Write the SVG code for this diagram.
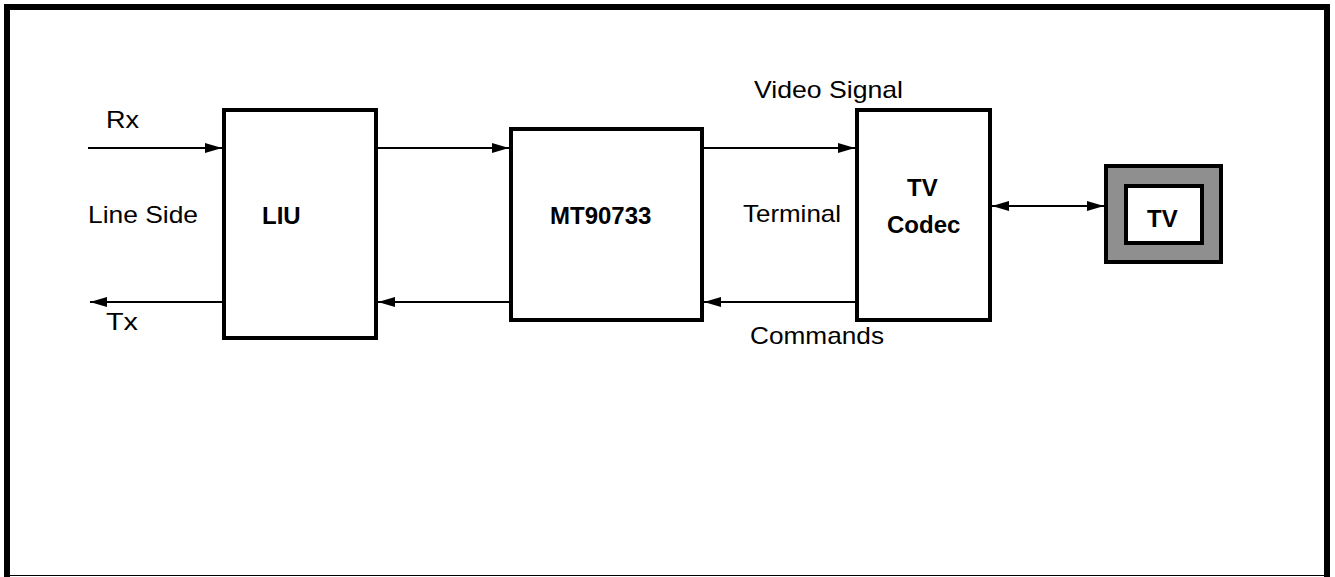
<svg xmlns="http://www.w3.org/2000/svg" width="1335" height="577" viewBox="0 0 1335 577">
<style>
.box{fill:#fff;stroke:#000;stroke-width:4}
.conn{stroke:#000;stroke-width:2;fill:none}
.lbl{font-family:"Liberation Sans",Arial,sans-serif;font-size:24px;fill:#000}
.bold{font-family:"Liberation Sans",Arial,sans-serif;font-size:24px;font-weight:bold;fill:#000}
</style>
<defs>
<marker id="ah" markerUnits="userSpaceOnUse" markerWidth="18" markerHeight="12" viewBox="0 0 18 12" refX="17" refY="6" orient="auto-start-reverse">
<path d="M0,1 L17,6 L0,11 Z" fill="#000"/>
</marker>
</defs>
<rect x="0" y="0" width="1335" height="577" fill="#fff"/>
<g id="frame">
<path d="M7,577 V7 H1327 V577" fill="none" stroke="#000" stroke-width="6"/>
<line x1="10" y1="575.5" x2="1324" y2="575.5" stroke="#000" stroke-width="1.2"/>
</g>
<g id="labels">
<text class="lbl" x="106" y="128" textLength="33" lengthAdjust="spacingAndGlyphs">Rx</text>
<text class="lbl" x="88" y="223" textLength="110" lengthAdjust="spacingAndGlyphs">Line Side</text>
<text class="lbl" x="106" y="330" textLength="32" lengthAdjust="spacingAndGlyphs">Tx</text>
<text class="lbl" x="754" y="98" textLength="149" lengthAdjust="spacingAndGlyphs">Video Signal</text>
<text class="lbl" x="743" y="222" textLength="98" lengthAdjust="spacingAndGlyphs">Terminal</text>
<text class="lbl" x="750" y="344" textLength="134" lengthAdjust="spacingAndGlyphs">Commands</text>
</g>
<g id="liu">
<rect class="box" x="224" y="110" width="152" height="228"/>
<text class="bold" x="262" y="224">LIU</text>
</g>
<g id="mt90733">
<rect class="box" x="511" y="129" width="191" height="191"/>
<text class="bold" x="550" y="224">MT90733</text>
</g>
<g id="codec">
<rect class="box" x="857" y="110" width="133" height="210"/>
<text class="bold" x="907" y="196">TV</text>
<text class="bold" x="887" y="233">Codec</text>
</g>
<g id="tv">
<rect x="1106" y="166" width="115" height="96" fill="#8f8f8f" stroke="#000" stroke-width="4"/>
<rect class="box" x="1126" y="186" width="76" height="57"/>
<text class="bold" x="1147" y="227">TV</text>
</g>
<g id="connectors">
<line class="conn" x1="88" y1="148" x2="222" y2="148" marker-end="url(#ah)"/>
<line class="conn" x1="222" y1="302" x2="90" y2="302" marker-end="url(#ah)"/>
<line class="conn" x1="378" y1="148" x2="509" y2="148" marker-end="url(#ah)"/>
<line class="conn" x1="509" y1="302" x2="378" y2="302" marker-end="url(#ah)"/>
<line class="conn" x1="704" y1="148" x2="855" y2="148" marker-end="url(#ah)"/>
<line class="conn" x1="855" y1="302" x2="704" y2="302" marker-end="url(#ah)"/>
<line class="conn" x1="992" y1="206" x2="1104" y2="206" marker-start="url(#ah)" marker-end="url(#ah)"/>
</g>
</svg>
